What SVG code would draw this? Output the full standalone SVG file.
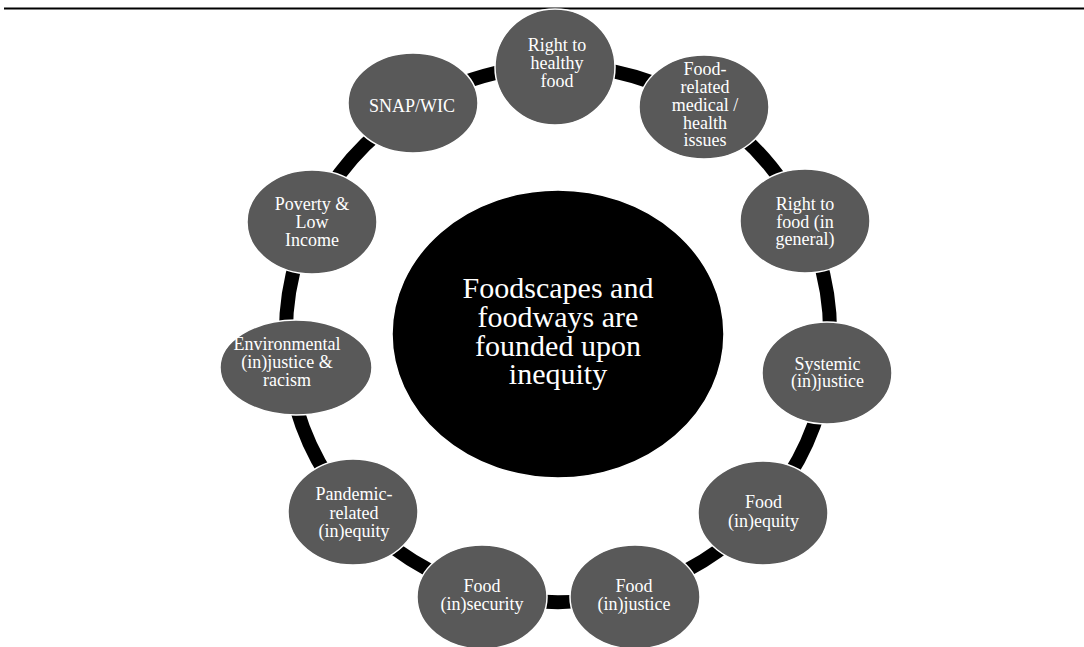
<svg xmlns="http://www.w3.org/2000/svg" width="1084" height="647" viewBox="0 0 1084 647">
  <style>
    .node { fill: #595959; stroke: #ffffff; stroke-width: 1.5; }
    .hub { fill: #000000; stroke: #ffffff; stroke-width: 1.5; }
    .lbl { font-family: "Liberation Serif", "Times New Roman", serif; font-size: 18px; fill: #ffffff; text-anchor: middle; }
    .hubtxt { font-family: "Liberation Serif", "Times New Roman", serif; font-size: 30px; fill: #ffffff; text-anchor: middle; }
    .link { fill: none; stroke: #000000; stroke-width: 14; }
  </style>

  <rect width="1084" height="647" fill="#ffffff"/>
  <!-- header rule -->
  <line x1="4" y1="8.5" x2="1084" y2="8.5" stroke="#000000" stroke-width="2"/>

  <!-- ring segments between neighbouring topics -->
  <g id="connectors">
    <path class="link" d="M558,66 A272,268 0 0 1 705,108.5"/>
    <path class="link" d="M705,108.5 A272,268 0 0 1 805.4,222.7"/>
    <path class="link" d="M805.4,222.7 A272,268 0 0 1 827.2,372.1"/>
    <path class="link" d="M827.2,372.1 A272,268 0 0 1 763.6,509.5"/>
    <path class="link" d="M763.6,509.5 A272,268 0 0 1 634.6,591.1"/>
    <path class="link" d="M634.6,591.1 A272,268 0 0 1 481.4,591.1"/>
    <path class="link" d="M481.4,591.1 A272,268 0 0 1 352.4,509.5"/>
    <path class="link" d="M352.4,509.5 A272,268 0 0 1 288.8,372.1"/>
    <path class="link" d="M288.8,372.1 A272,268 0 0 1 310.6,222.7"/>
    <path class="link" d="M310.6,222.7 A272,268 0 0 1 411,108.5"/>
    <path class="link" d="M411,108.5 A272,268 0 0 1 558,66"/>
  </g>

  <g id="hub">
    <ellipse class="hub" cx="558" cy="334" rx="166" ry="144"/>
    <text class="hubtxt" x="558" y="298">Foodscapes and<tspan x="558" dy="29">foodways are</tspan><tspan x="558" dy="28.5">founded upon</tspan><tspan x="558" dy="28">inequity</tspan></text>
  </g>

  <g id="right-to-healthy-food">
    <ellipse class="node" cx="555" cy="67" rx="60" ry="58"/>
    <text class="lbl" x="557" y="51">Right to<tspan x="557" dy="18">healthy</tspan><tspan x="557" dy="18">food</tspan></text>
  </g>

  <g id="food-related-health">
    <ellipse class="node" cx="704" cy="107" rx="65" ry="52"/>
    <text class="lbl" x="705" y="75">Food-<tspan x="705" dy="18">related</tspan><tspan x="705" dy="18">medical /</tspan><tspan x="705" dy="17.5">health</tspan><tspan x="705" dy="17.5">issues</tspan></text>
  </g>

  <g id="right-to-food">
    <ellipse class="node" cx="805" cy="221" rx="65" ry="52"/>
    <text class="lbl" x="805" y="210">Right to<tspan x="805" dy="17.5">food (in</tspan><tspan x="805" dy="17.5">general)</tspan></text>
  </g>

  <g id="systemic-injustice">
    <ellipse class="node" cx="827" cy="373" rx="65" ry="51"/>
    <text class="lbl" x="827.5" y="370">Systemic<tspan x="827.5" dy="17">(in)justice</tspan></text>
  </g>

  <g id="food-inequity">
    <ellipse class="node" cx="763" cy="513" rx="65" ry="52"/>
    <text class="lbl" x="763.5" y="508">Food<tspan x="763.5" dy="18.5">(in)equity</tspan></text>
  </g>

  <g id="food-injustice">
    <ellipse class="node" cx="635" cy="597" rx="65" ry="52"/>
    <text class="lbl" x="634" y="591.5">Food<tspan x="634" dy="18">(in)justice</tspan></text>
  </g>

  <g id="food-insecurity">
    <ellipse class="node" cx="482" cy="597" rx="65" ry="52"/>
    <text class="lbl" x="482" y="591.5">Food<tspan x="482" dy="18">(in)security</tspan></text>
  </g>

  <g id="pandemic-inequity">
    <ellipse class="node" cx="353" cy="512" rx="65" ry="53"/>
    <text class="lbl" x="354" y="500">Pandemic-<tspan x="354" dy="18.5">related</tspan><tspan x="354" dy="18">(in)equity</tspan></text>
  </g>

  <g id="environmental-injustice">
    <ellipse class="node" cx="296" cy="367.5" rx="76" ry="47.5"/>
    <text class="lbl" x="287" y="350">Environmental<tspan x="287" dy="18">(in)justice &amp;</tspan><tspan x="287" dy="18">racism</tspan></text>
  </g>

  <g id="poverty-low-income">
    <ellipse class="node" cx="312" cy="222" rx="65" ry="52"/>
    <text class="lbl" x="312" y="210">Poverty &amp;<tspan x="312" dy="17.5">Low</tspan><tspan x="312" dy="18">Income</tspan></text>
  </g>

  <g id="snap-wic">
    <ellipse class="node" cx="413" cy="103" rx="65" ry="50"/>
    <text class="lbl" x="412" y="111.5">SNAP/WIC</text>
  </g>
</svg>
